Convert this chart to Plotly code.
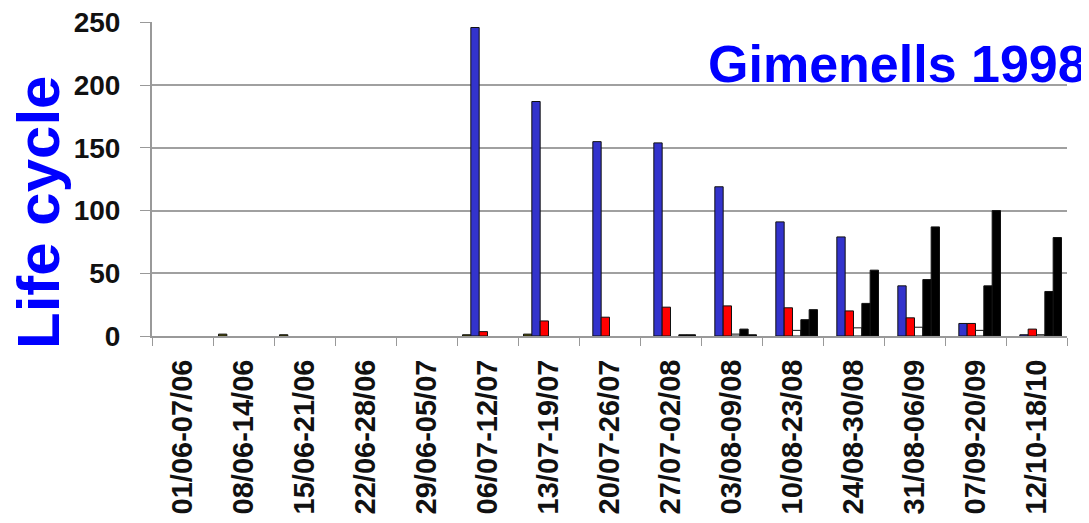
import plotly.graph_objects as go

categories = ["01/06-07/06", "08/06-14/06", "15/06-21/06", "22/06-28/06", "29/06-05/07",
              "06/07-12/07", "13/07-19/07", "20/07-26/07", "27/07-02/08", "03/08-09/08",
              "10/08-23/08", "24/08-30/08", "31/08-06/09", "07/09-20/09", "12/10-18/10"]

series_olive = [None, 1.5, 1, None, None, 1, 1.5, None, None, None, None, None, None, None, None]
series_blue = [None, None, None, None, None, 246, 187, 155, 154, 119, 91, 79, 40, 10, 1]
series_red = [None, None, None, None, None, 3.5, 12, 15, 23, 24, 22.5, 20, 14.5, 10, 5.5]
series_white = [None, None, None, None, None, None, None, None, None, 1.5, 4.5, 6.5, 7, 4.5, 1]
series_black1 = [None, None, None, None, None, None, None, None, 1, 5.5, 13, 26, 45, 40, 35.5]
series_black2 = [None, None, None, None, None, None, None, None, 1, 1, 21, 52.5, 87, 100, 78.5]

y_ticks = [0, 50, 100, 150, 200, 250]

series = [
    ("Series 1", series_olive, "#5a5a00"),
    ("Series 2", series_blue, "#3333cc"),
    ("Series 3", series_red, "#ff0000"),
    ("Series 4", series_white, "#ffffff"),
    ("Series 5", series_black1, "#000000"),
    ("Series 6", series_black2, "#000000"),
]

fig = go.Figure()
for name, vals, col in series:
    fig.add_trace(go.Bar(x=categories, y=vals, name=name,
                         marker=dict(color=col, line=dict(color="#111111", width=1))))

# page has an 8px body margin, so the figure is offset by 8px
OFF = 8
W, H = 1089 - OFF, 523 - OFF
ml, mr, mt, mb = 152 - OFF, 22, 22 - OFF, 187
pw, ph = W - ml - mr, H - mt - mb

def px_to_paper_x(px):
    return (px - OFF - ml) / pw

def px_to_paper_y(py):
    return (H - mb - (py - OFF)) / ph

fig.update_layout(
    width=W, height=H,
    margin=dict(l=ml, r=mr, t=mt, b=mb, autoexpand=False),
    barmode="group", bargap=0.18, bargroupgap=0,
    plot_bgcolor="white", paper_bgcolor="white",
    showlegend=False,
    font=dict(family="Liberation Sans, Arial, sans-serif", color="#111111"),
)
fig.update_xaxes(
    type="category", tickangle=-90, tickson="boundaries", automargin=False,
    ticks="outside", ticklen=8, tickcolor="#999999",
    showline=True, linecolor="#999999", linewidth=2,
    showgrid=False, ticklabeloverflow="allow",
    tickfont=dict(size=29, family="Liberation Sans, Arial, sans-serif", color="#111111", weight="bold"),
    ticklabelstandoff=10,
)
fig.update_yaxes(
    range=[0, 250.4], tickvals=y_ticks, automargin=False,
    ticks="outside", ticklen=10, tickcolor="#999999",
    showline=True, linecolor="#999999", linewidth=2,
    showgrid=True, gridcolor="#a0a0a0", gridwidth=2,
    zeroline=False, ticklabeloverflow="allow",
    tickfont=dict(size=28, family="Liberation Sans, Arial, sans-serif", color="#111111", weight="bold"),
    ticklabelstandoff=14,
)

fig.add_annotation(text="Life cycle", textangle=-90, xref="paper", yref="paper",
                   x=px_to_paper_x(38), y=px_to_paper_y(212), xanchor="center", yanchor="middle",
                   showarrow=False,
                   font=dict(size=60, color="#0000ff", family="Liberation Sans, Arial, sans-serif", weight="bold"))
fig.add_annotation(text="Gimenells 1998", xref="paper", yref="paper",
                   x=px_to_paper_x(706), y=px_to_paper_y(64), xanchor="left", yanchor="middle",
                   showarrow=False,
                   font=dict(size=52, color="#0000ff", family="Liberation Sans, Arial, sans-serif", weight="bold"))

fig.write_html("out.html")
